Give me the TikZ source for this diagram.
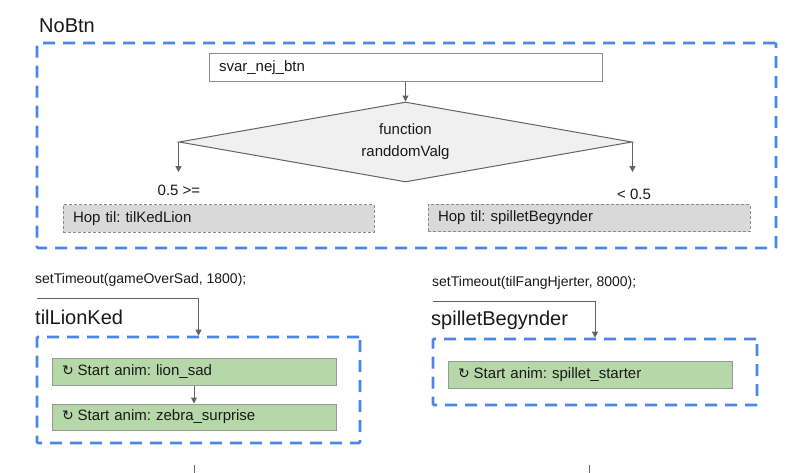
\documentclass[tikz,border=0pt]{standalone}
\usepackage{fontspec}
\setmainfont{Liberation Sans}
\newfontfamily\symfont{DejaVu Sans}
\usetikzlibrary{arrows.meta,positioning,shapes.geometric}
\definecolor{dashblue}{RGB}{74,134,232}
\definecolor{hopgray}{RGB}{217,217,217}
\definecolor{animgreen}{RGB}{182,215,168}
\definecolor{linegray}{RGB}{100,100,100}
\newcommand{\loopsym}{{\symfont\fontsize{14}{15}\selectfont ↻}\hspace{4pt}}
\frenchspacing

\begin{document}
\begin{tikzpicture}[
  x=1pt, y=-1pt,
  every node/.style={font=\fontsize{15}{17}\selectfont, text=black!90},
  group/.style={draw=dashblue, line width=2.6pt, dash pattern=on 12pt off 8pt, rounded corners=1pt, inner sep=0pt},
  title/.style={anchor=west, inner sep=0pt, font=\fontsize{20}{22}\selectfont},
  code/.style={anchor=west, inner sep=0pt, font=\fontsize{14}{16}\selectfont},
  plainbox/.style={draw=black!45, line width=1pt, fill=white, align=left, inner xsep=10pt, inner ysep=0pt},
  hopbox/.style={draw=black!45, line width=1pt, dash pattern=on 3pt off 2pt, fill=hopgray, align=left, inner xsep=10pt, inner ysep=0pt, minimum height=27pt},
  animbox/.style={draw=black!40, line width=1pt, fill=animgreen, align=left, inner xsep=10pt, inner ysep=0pt, text width=264pt, minimum height=27pt},
  arrow/.style={draw=linegray, line width=1pt, -{Triangle[length=6pt,width=6pt]}}, % grey flow arrow
  ]
\useasboundingbox (0,0) rectangle (800,473);

% NoBtn group
\node[title] (nobtnlbl) at (39,26) {NoBtn};
\node[group, minimum width=739pt, minimum height=205pt] (nobtn) at (406.5,145.5) {};
\node[plainbox, text width=373pt, minimum height=28pt] (svar) at (405.5,68) {svar\_nej\_btn};
\node[diamond, shape aspect=5.6, draw=linegray, line width=1pt, fill=black!6, minimum width=453pt, minimum height=80pt, inner sep=0pt, align=center, font=\fontsize{15}{22}\selectfont] (valg) [below=19pt of svar] {function\\randdomValg};
\node (lowlbl) at (179,190) {0.5 >=};
\node (highlbl) at (634,194) {< 0.5};
\node[hopbox, text width=291pt] (hoplion) at (218.5,218.5) {Hop til: tilKedLion};
\node[hopbox, text width=302pt] (hopspil) at (589,218) {Hop til: spilletBegynder};

\draw[arrow] (svar) -- (valg);
\draw[arrow, shorten >=9pt] (valg.west) -- (valg.west |- lowlbl.north);
\draw[arrow, shorten >=13pt] (valg.east) -- (valg.east |- highlbl.north);

% tilLionKed
\node[code] (lioncode) at (35,280) {setTimeout(gameOverSad, 1800);};
\node[title] (lionlbl) at (35,317) {tilLionKed};
\node[group, minimum width=323pt, minimum height=106pt] (lionbox) at (198.5,390) {};
\node[animbox] (liansad) at (194,371.5) {\loopsym Start anim: lion\_sad};
\node[animbox, minimum height=26pt] (zebra) [below=18pt of liansad] {\loopsym Start anim: zebra\_surprise};
\coordinate (lionin) at (37,298);
\coordinate (lionout) at (194,465);
\coordinate (lionend) at (194,473);

\draw[arrow] (lionin) -| (lionbox.north);
\draw[arrow] (liansad) -- (zebra);
\draw[draw=linegray, line width=1pt] (lionout) -- (lionend);

% spilletBegynder
\node[code] (spilcode) at (432,283) {setTimeout(tilFangHjerter, 8000);};
\node[title] (spillbl) at (431,320) {spilletBegynder};
\node[group, minimum width=324pt, minimum height=66pt] (spilbox) at (595,372) {};
\node[animbox] (starter) at (590,374.5) {\loopsym Start anim: spillet\_starter};
\coordinate (spilin) at (433,301);
\coordinate (spilout) at (589,465);
\coordinate (spilend) at (589,473);

\draw[arrow] (spilin) -| (spilbox.north);
\draw[draw=linegray, line width=1pt] (spilout) -- (spilend);

\end{tikzpicture}
\end{document}
